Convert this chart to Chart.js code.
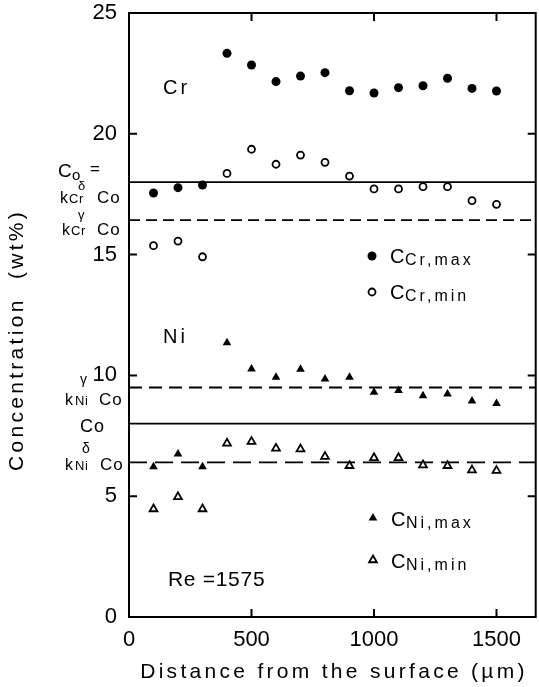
<!DOCTYPE html>
<html>
<head>
<meta charset="utf-8">
<script src="https://cdn.jsdelivr.net/npm/chart.js@4.4.1/dist/chart.umd.min.js"></script>
<style>
  html, body { margin: 0; padding: 0; background: #fff; overflow: hidden; }
  #wrap { width: 542px; height: 687px; }
</style>
</head>
<body>
<div id="wrap"><canvas id="concChart"></canvas></div>
<script>
// distances from the surface (um)
const distances = [100, 200, 300, 400, 500, 600, 700, 800, 900, 1000, 1100, 1200, 1300, 1400, 1500];
// Cr concentrations (wt%)
const crMax = [17.55, 17.77, 17.88, 23.33, 22.85, 22.16, 22.39, 22.53, 21.78, 21.69, 21.91, 21.99, 22.30, 21.88, 21.77];
const crMin = [15.37, 15.56, 14.91, 18.36, 19.36, 18.74, 19.12, 18.82, 18.25, 17.72, 17.72, 17.81, 17.81, 17.23, 17.08];
// Ni concentrations (wt%)
const niMax = [6.22, 6.75, 6.22, 11.35, 10.26, 9.92, 10.25, 9.85, 9.92, 9.30, 9.37, 9.16, 9.23, 8.94, 8.84];
const niMin = [4.47, 4.97, 4.47, 7.19, 7.26, 6.98, 6.95, 6.64, 6.26, 6.59, 6.59, 6.29, 6.26, 6.08, 6.06];
// reference levels
const crCo = 18.0;      // Co = kCr(delta) Co
const crGamma = 16.43;  // kCr(gamma) Co
const niGamma = 9.5;    // kNi(gamma) Co
const niCo = 8.0;       // Co
const niDelta = 6.4;    // kNi(delta) Co

const xTicks = [0, 500, 1000, 1500];
const yTicks = [0, 5, 10, 15, 20, 25];
const xRange = [0, 1660];

const FONT = "'Liberation Sans', Arial, sans-serif";

const pts = arr => distances.map((d, i) => ({ x: d, y: arr[i] }));
const hline = v => xRange.map(x => ({ x: x, y: v }));

function txt(ctx, s, x, y, size, spacing) {
    ctx.font = size + 'px ' + FONT;
    ctx.letterSpacing = (spacing || 0) + 'px';
    ctx.fillText(s, x, y);
}

// C + subscript, e.g. C_Cr,max
function legendText(ctx, sub, x, y) {
    txt(ctx, 'C', x, y, 20, 0);
    txt(ctx, sub, x + 15, y + 2, 16, 3);
}

function tri(ctx, x, y, r, filled) {
    const s = r * Math.sqrt(3) / 2;
    ctx.beginPath();
    ctx.moveTo(x, y - r);
    ctx.lineTo(x + s, y + r / 2);
    ctx.lineTo(x - s, y + r / 2);
    ctx.closePath();
    if (filled) ctx.fill(); else ctx.stroke();
}

const decorPlugin = {
    id: 'decor',
    afterDatasetsDraw(chart) {
        const ctx = chart.ctx;
        const a = chart.chartArea;
        const xs = chart.scales.x, ys = chart.scales.y;
        ctx.save();
        ctx.strokeStyle = '#000';
        ctx.fillStyle = '#000';
        ctx.lineWidth = 2;
        ctx.strokeRect(a.left, a.top, a.right - a.left, a.bottom - a.top);

        // inward ticks on all four sides
        ctx.beginPath();
        xTicks.forEach(v => {
            const px = xs.getPixelForValue(v);
            ctx.moveTo(px, a.bottom); ctx.lineTo(px, a.bottom - 8);
            ctx.moveTo(px, a.top); ctx.lineTo(px, a.top + 8);
        });
        yTicks.forEach(v => {
            const py = ys.getPixelForValue(v);
            ctx.moveTo(a.left, py); ctx.lineTo(a.left + 8, py);
            ctx.moveTo(a.right, py); ctx.lineTo(a.right - 8, py);
        });
        ctx.stroke();

        ctx.textAlign = 'left';
        ctx.textBaseline = 'alphabetic';

        // element labels
        txt(ctx, 'Cr', 163, 94, 20, 3);
        txt(ctx, 'Ni', 163, 343, 20, 3);
        txt(ctx, 'Re =1575', 168, 586, 21, 0.7);

        // legend
        ctx.lineWidth = 1.8;
        ctx.beginPath(); ctx.arc(372, 256, 4.5, 0, Math.PI * 2); ctx.fill();
        legendText(ctx, 'Cr,max', 390, 263);
        ctx.beginPath(); ctx.arc(372, 292, 3.5, 0, Math.PI * 2); ctx.stroke();
        legendText(ctx, 'Cr,min', 390, 299);
        tri(ctx, 373, 518, 5, true);
        legendText(ctx, 'Ni,max', 391, 526);
        tri(ctx, 373, 560, 4.5, false);
        legendText(ctx, 'Ni,min', 391, 568);

        // reference level labels at the left of the axis
        txt(ctx, 'C', 58, 177, 19, 0);
        txt(ctx, 'o', 72, 180, 15, 0);
        txt(ctx, '=', 90, 174, 17, 0);
        txt(ctx, 'δ', 78, 190, 13, 0);
        txt(ctx, 'k', 60, 203, 16, 0);
        txt(ctx, 'Cr', 69, 203, 13, 0.5);
        txt(ctx, 'Co', 97, 203, 17, 1);
        txt(ctx, 'γ', 78, 219, 13, 0);
        txt(ctx, 'k', 62, 235, 16, 0);
        txt(ctx, 'Cr', 71, 235, 13, 0.5);
        txt(ctx, 'Co', 97, 235, 17, 1);

        txt(ctx, 'γ', 80, 384, 14, 0);
        txt(ctx, 'k', 65, 405, 16, 0);
        txt(ctx, 'Ni', 75, 405, 13, 0.5);
        txt(ctx, 'Co', 99, 405, 17, 1);
        txt(ctx, 'Co', 80, 432, 18, 1);
        txt(ctx, 'δ', 82, 453, 14, 0);
        txt(ctx, 'k', 65, 470, 16, 0);
        txt(ctx, 'Ni', 75, 470, 13, 0.5);
        txt(ctx, 'Co', 100, 470, 17, 1);

        // axis titles
        ctx.textAlign = 'center';
        txt(ctx, 'Distance from the surface (µm)', 334, 678, 21, 3.3);
        ctx.translate(23, 340);
        ctx.rotate(-Math.PI / 2);
        txt(ctx, 'Concentration  (wt%)', 0, 0, 21, 3.3);
        ctx.restore();
    }
};

const markerBase = { showLine: false, borderColor: '#000', order: 1 };
const lineBase = { type: 'line', pointRadius: 0, borderColor: '#000', borderWidth: 1.8, fill: false, order: 2 };

new Chart(document.getElementById('concChart'), {
    type: 'scatter',
    data: {
        datasets: [
            { ...markerBase, label: 'C Cr,max', data: pts(crMax), pointStyle: 'circle', pointRadius: 4.5, backgroundColor: '#000', borderWidth: 0 },
            { ...markerBase, label: 'C Cr,min', data: pts(crMin), pointStyle: 'circle', pointRadius: 3.5, backgroundColor: '#fff', borderWidth: 1.8 },
            { ...markerBase, label: 'C Ni,max', data: pts(niMax), pointStyle: 'triangle', pointRadius: 5, backgroundColor: '#000', borderWidth: 0 },
            { ...markerBase, label: 'C Ni,min', data: pts(niMin), pointStyle: 'triangle', pointRadius: 4.5, backgroundColor: '#fff', borderWidth: 1.8 },
            { ...lineBase, label: 'Co Cr', data: hline(crCo) },
            { ...lineBase, label: 'kCr gamma Co', data: hline(crGamma), borderDash: [11, 6] },
            { ...lineBase, label: 'kNi gamma Co', data: hline(niGamma), borderDash: [13, 7] },
            { ...lineBase, label: 'Co Ni', data: hline(niCo) },
            { ...lineBase, label: 'kNi delta Co', data: hline(niDelta), borderDash: [18, 8] }
        ]
    },
    options: {
        responsive: true,
        maintainAspectRatio: false,
        animation: false,
        devicePixelRatio: 1,
        layout: { padding: { top: 13, right: 2, left: 0, bottom: 0 } },
        plugins: {
            legend: { display: false },
            tooltip: { enabled: false }
        },
        scales: {
            x: {
                type: 'linear',
                min: xRange[0],
                max: xRange[1],
                grid: { display: false, drawTicks: false },
                border: { display: false },
                afterBuildTicks: s => { s.ticks = xTicks.map(v => ({ value: v })); },
                afterFit: s => { s.height = 70; s.paddingLeft = 0; s.paddingRight = 0; },
                ticks: {
                    color: '#000',
                    padding: 10,
                    maxRotation: 0,
                    callback: v => String(v),
                    font: { family: FONT, size: 22 }
                }
            },
            y: {
                min: 0,
                max: 25,
                grid: { display: false, drawTicks: false },
                border: { display: false },
                afterBuildTicks: s => { s.ticks = yTicks.map(v => ({ value: v })); },
                afterFit: s => { s.width = 129; s.paddingTop = 0; s.paddingBottom = 0; },
                ticks: {
                    color: '#000',
                    padding: 12,
                    callback: v => String(v),
                    font: { family: FONT, size: 22 }
                }
            }
        }
    },
    plugins: [decorPlugin]
});
</script>
</body>
</html>
